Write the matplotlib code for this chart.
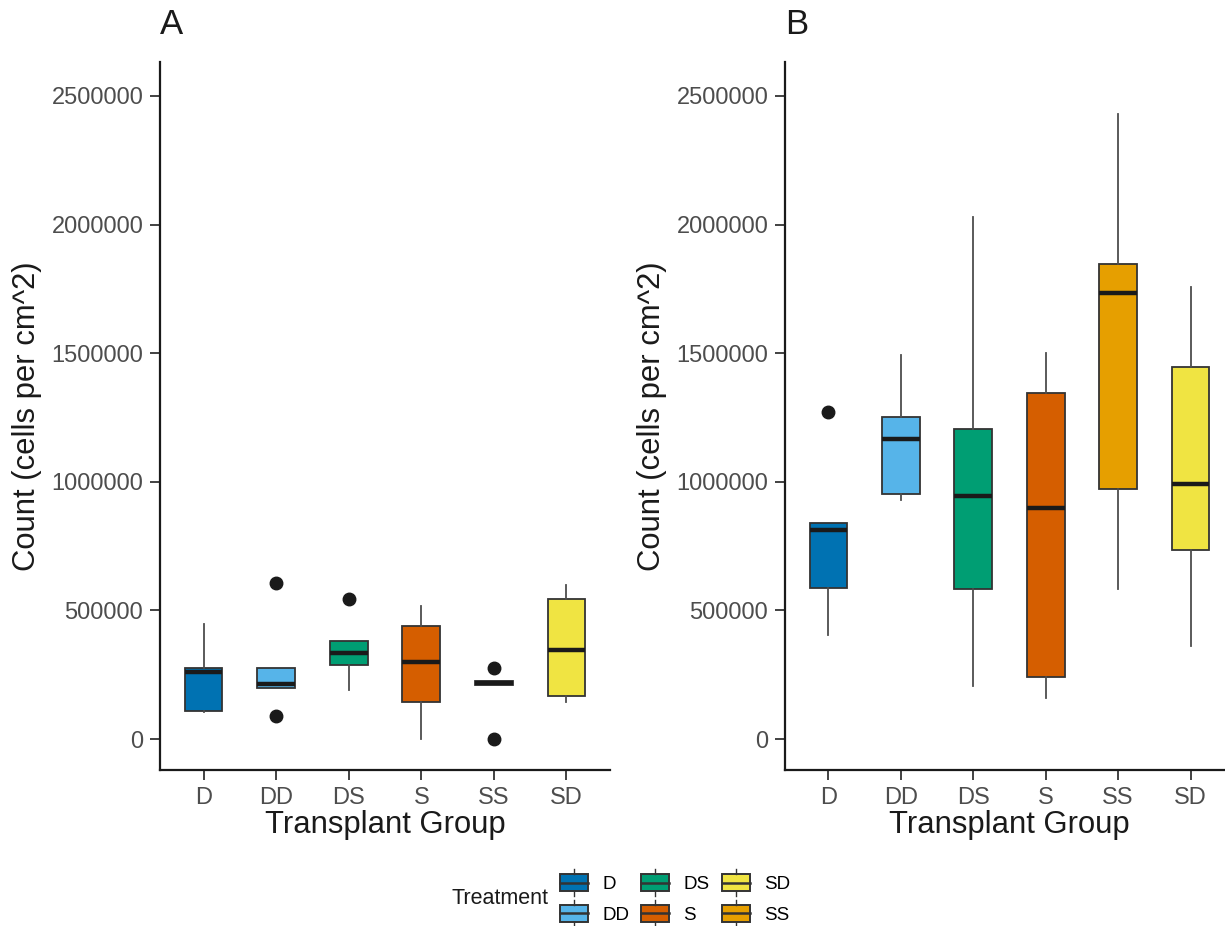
import matplotlib
matplotlib.use("Agg")
import matplotlib.pyplot as plt
from matplotlib.legend_handler import HandlerBase
from matplotlib.patches import Rectangle, Patch
from matplotlib.lines import Line2D

plt.rcParams['font.family'] = ['Liberation Sans', 'DejaVu Sans']

groups = ["D", "DD", "DS", "S", "SS", "SD"]
colors = {"D": "#0072B2", "DD": "#56B4E9", "DS": "#009E73",
          "S": "#D55E00", "SS": "#E69F00", "SD": "#F0E442"}
legend_order = ["D", "DD", "DS", "S", "SD", "SS"]

# panel A (five-number summaries)
a_low = [105000, 200000, 190000, 2000, 212000, 144000]
a_q1 = [109000, 200000, 288000, 144000, 212000, 168000]
a_med = [262000, 214000, 334000, 300000, 220000, 346000]
a_q3 = [276000, 276000, 381000, 439000, 227000, 544000]
a_high = [447000, 276000, 381000, 518000, 227000, 599000]
a_fliers = [[], [608000, 89000], [546000], [], [276000, 0], []]

# panel B
b_low = [403000, 929000, 206000, 158000, 582000, 362000]
b_q1 = [586000, 953000, 583000, 242000, 971000, 734000]
b_med = [813000, 1168000, 946000, 898000, 1736000, 991000]
b_q3 = [842000, 1251000, 1205000, 1344000, 1845000, 1445000]
b_high = [842000, 1492000, 2031000, 1500000, 2429000, 1759000]
b_fliers = [[1273000], [], [], [], [], []]

yticks = [0, 500000, 1000000, 1500000, 2000000, 2500000]


class BoxHandler(HandlerBase):
    def create_artists(self, legend, orig_handle, xdescent, ydescent,
                       width, height, fontsize, trans):
        x0, y0 = -xdescent, -ydescent
        cx = x0 + width / 2
        rect = Rectangle((x0, y0 + 0.14 * height), width, 0.72 * height,
                         facecolor=orig_handle.get_facecolor(),
                         edgecolor="#333333", lw=1.4, transform=trans)
        med = Line2D([x0, x0 + width], [y0 + 0.5 * height] * 2,
                     color="#333333", lw=1.8, transform=trans)
        w1 = Line2D([cx, cx], [y0 + 0.86 * height, y0 + 1.08 * height],
                    color="#333333", lw=1.0, transform=trans)
        w2 = Line2D([cx, cx], [y0 - 0.08 * height, y0 + 0.14 * height],
                    color="#333333", lw=1.0, transform=trans)
        return [rect, med, w1, w2]


def draw_panel(ax, low, q1, med, q3, high, fliers, letter):
    stats = []
    for i, g in enumerate(groups):
        stats.append(dict(whislo=low[i], q1=q1[i], med=med[i], q3=q3[i],
                          whishi=high[i], fliers=fliers[i], label=g))
    res = ax.bxp(stats, positions=range(1, 7), widths=0.52, patch_artist=True,
                 showcaps=False,
                 boxprops=dict(edgecolor="#333333", linewidth=1.3),
                 medianprops=dict(color="#1a1a1a", linewidth=3.2),
                 whiskerprops=dict(color="#4d4d4d", linewidth=1.3),
                 flierprops=dict(marker="o", markerfacecolor="#1a1a1a",
                                 markeredgecolor="#1a1a1a", markersize=9))
    for patch, g in zip(res["boxes"], groups):
        patch.set_facecolor(colors[g])
    ax.set_xlim(0.4, 6.6)
    ax.set_ylim(-120000, 2632000)
    ax.set_yticks(yticks)
    ax.set_yticklabels([str(v) for v in yticks])
    for s in ["top", "right"]:
        ax.spines[s].set_visible(False)
    for s in ["left", "bottom"]:
        ax.spines[s].set_linewidth(1.6)
        ax.spines[s].set_color("#1a1a1a")
    ax.tick_params(axis="both", labelsize=17, labelcolor="#4d4d4d",
                   color="#333333", length=7, width=1.3, pad=5)
    ax.set_xlabel("Transplant Group", fontsize=22.3, color="#1a1a1a", labelpad=1)
    ax.set_ylabel("Count (cells per cm^2)", fontsize=22.3, color="#1a1a1a", labelpad=7)
    ax.text(0.0, 1.03, letter, transform=ax.transAxes, fontsize=25,
            ha="left", va="bottom", color="#1a1a1a")


fig = plt.figure(figsize=(12.25, 9.26), dpi=100)
W, H = 1225.0, 926.0
ax1 = fig.add_axes([160 / W, 1 - 770 / H, 450 / W, 708 / H])
ax2 = fig.add_axes([785 / W, 1 - 770 / H, 449 / W, 708 / H])

draw_panel(ax1, a_low, a_q1, a_med, a_q3, a_high, a_fliers, "A")
draw_panel(ax2, b_low, b_q1, b_med, b_q3, b_high, b_fliers, "B")

handles = [Patch(facecolor=colors[g]) for g in legend_order]
leg = fig.legend(handles, legend_order, handler_map={Patch: BoxHandler()},
                 ncol=3, loc="center", bbox_to_anchor=(675 / W, 1 - 898 / H),
                 frameon=False, fontsize=13.5, handlelength=1.5, handleheight=1.5,
                 labelspacing=0.42, columnspacing=0.65, handletextpad=0.75,
                 borderpad=0.2)
fig.text(548 / W, 1 - 898 / H, "Treatment", fontsize=15.5, ha="right",
         va="center", color="#1a1a1a")

fig.savefig("out.png", dpi=100)
